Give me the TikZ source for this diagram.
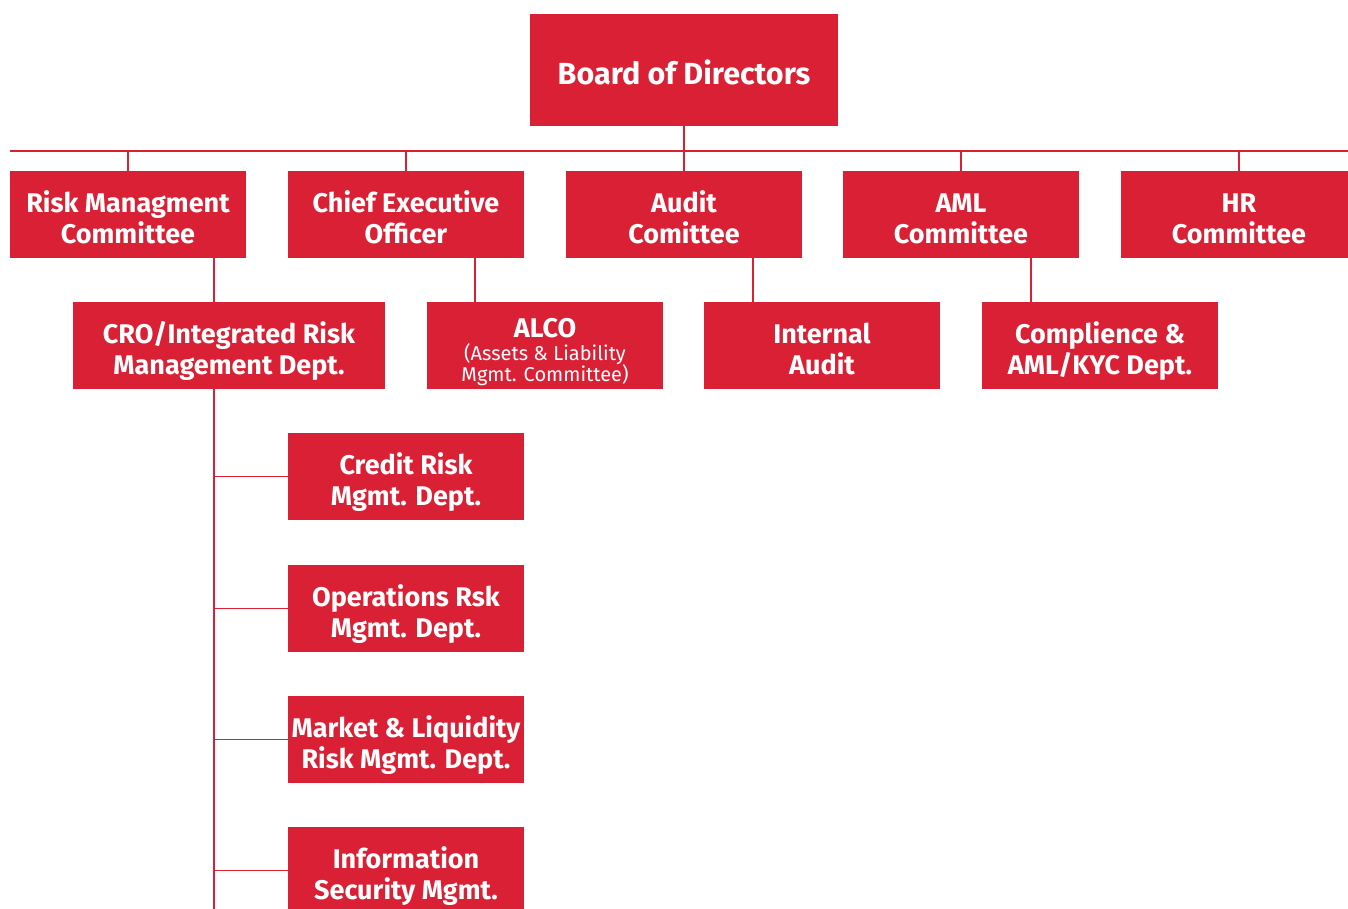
\documentclass[tikz,border=0pt]{standalone}
\usepackage{fontspec}
\setmainfont{Fira Sans}
\definecolor{brandred}{RGB}{218,32,52}
\newcommand\twolines[2]{\raisebox{-7pt}[\height][\depth]{\begin{tabular}{@{}c@{}}#1\\#2\end{tabular}}}
\begin{document}
\begin{tikzpicture}[x=1pt,y=-1pt,
  box/.style={fill=brandred,text=white,inner sep=0pt,minimum width=236pt,minimum height=87pt,align=center,
    font=\bfseries\fontsize{27}{30.5}\selectfont},
  conn/.style={draw=brandred,line width=1.2pt}]
\useasboundingbox (0,0) rectangle (1348,909);
% top
\node[box,minimum width=308pt,minimum height=112pt,font=\bfseries\fontsize{30.5}{34}\selectfont,
  execute at begin node={\rule{0pt}{36pt}},execute at end node={\rule[-6pt]{0pt}{0pt}}] (bod) at (684,70) {Board of Directors};
% row 1
\node[box] (rmc) at (128,214.5) {\twolines{Risk Managment}{Committee}};
\node[box] (ceo) at (406,214.5) {\twolines{Chief Executive}{Officer}};
\node[box] (aud) at (684,214.5) {\twolines{Audit}{Comittee}};
\node[box] (aml) at (961,214.5) {\twolines{AML}{Committee}};
\node[box] (hr) at (1239,214.5) {\twolines{HR}{Committee}};
% row 2
\node[box,minimum width=312pt] (cro) at (229,345.5) {\twolines{CRO/Integrated Risk}{Management Dept.}};
\node[box] (alco) at (545,345.5) {\raisebox{-8pt}[\height][\depth]{\begin{tabular}{@{}c@{}}ALCO\\[-8pt]{\mdseries\fontsize{20}{21}\selectfont (Assets \& Liability}\\[-9.5pt]{\mdseries\fontsize{20}{21}\selectfont Mgmt. Committee)}\end{tabular}}};
\node[box] (ia) at (822,345.5) {\twolines{Internal}{Audit}};
\node[box] (comp) at (1100,345.5) {\twolines{Complience \&}{AML/KYC Dept.}};
% column
\node[box] (cr) at (406,476.5) {\twolines{Credit Risk}{Mgmt. Dept.}};
\node[box] (op) at (406,608.5) {\twolines{Operations Rsk}{Mgmt. Dept.}};
\node[box] (ml) at (406,739.5) {\twolines{Market \& Liquidity}{Risk Mgmt. Dept.}};
\node[box] (is) at (406,870.5) {\twolines{Information}{Security Mgmt.}};
% connectors
\coordinate (hl) at (10,151);
\coordinate (hr2) at (1348,151);
\coordinate (t1) at (214,0);
\coordinate (t2) at (475,0);
\coordinate (t3) at (753,0);
\coordinate (t4) at (1031,0);
\coordinate (bot) at (214,909);
\draw[conn] (hl) -- (hr2);
\draw[conn] (bod.south) -- (bod.south |- hl);
\foreach \n in {rmc,ceo,aud,aml,hr} \draw[conn] (\n.north) -- (\n.north |- hl);
\draw[conn] (rmc.south -| t1) -- (cro.north -| t1);
\draw[conn] (ceo.south -| t2) -- (alco.north -| t2);
\draw[conn] (aud.south -| t3) -- (ia.north -| t3);
\draw[conn] (aml.south -| t4) -- (comp.north -| t4);
\draw[conn] (cro.south -| t1) -- (bot);
\foreach \n in {cr,op,ml,is} \draw[conn] (\n.west) -- (\n.west -| t1);
\end{tikzpicture}
\end{document}
